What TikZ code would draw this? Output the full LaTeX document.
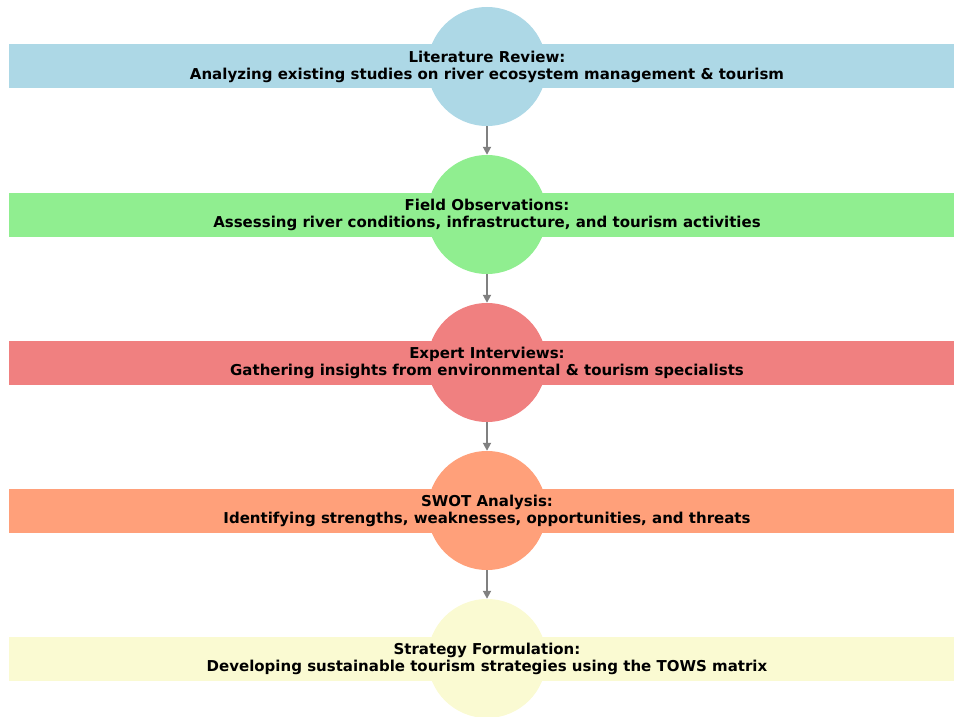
\documentclass[tikz,border=0pt]{standalone}
\usepackage{fontspec}
\setmainfont{DejaVu Sans}
\usetikzlibrary{arrows.meta}
\definecolor{cA}{RGB}{173,216,230}
\definecolor{cB}{RGB}{144,238,144}
\definecolor{cC}{RGB}{240,128,128}
\definecolor{cD}{RGB}{255,160,122}
\definecolor{cE}{RGB}{250,250,210}
\definecolor{arr}{RGB}{128,128,128}
\tikzset{
  stepcircle/.style={circle, minimum size=119pt, inner sep=0pt, fill=#1},
  steptext/.style={align=center, font=\bfseries\fontsize{15}{17}\selectfont, inner sep=0pt},
  flow/.style={draw=arr, line width=1.8pt, -{Triangle[length=8pt,width=8pt]}}
}
\begin{document}
\begin{tikzpicture}[x=1pt,y=-1pt]
\useasboundingbox (0,0) rectangle (954,717);
\foreach \c/\y/\n in {cA/66.5/a, cB/214.5/b, cC/362.5/c, cD/510.5/d, cE/658.5/e}{
  \node[stepcircle=\c] (\n) at (487,\y) {};
  \fill[\c] (9,\y-22) rectangle (954,\y+22);
}
\node[steptext] (ta) at (a.center) {Literature Review:\\Analyzing existing studies on river ecosystem management \& tourism};
\node[steptext] (tb) at (b.center) {Field Observations:\\Assessing river conditions, infrastructure, and tourism activities};
\node[steptext] (tc) at (c.center) {Expert Interviews:\\Gathering insights from environmental \& tourism specialists};
\node[steptext] (td) at (d.center) {SWOT Analysis:\\Identifying strengths, weaknesses, opportunities, and threats};
\node[steptext] (te) at (e.center) {Strategy Formulation:\\Developing sustainable tourism strategies using the TOWS matrix};
\draw[flow] (a.south) -- (b.north);
\draw[flow] (b.south) -- (c.north);
\draw[flow] (c.south) -- (d.north);
\draw[flow] (d.south) -- (e.north);
\end{tikzpicture}
\end{document}
